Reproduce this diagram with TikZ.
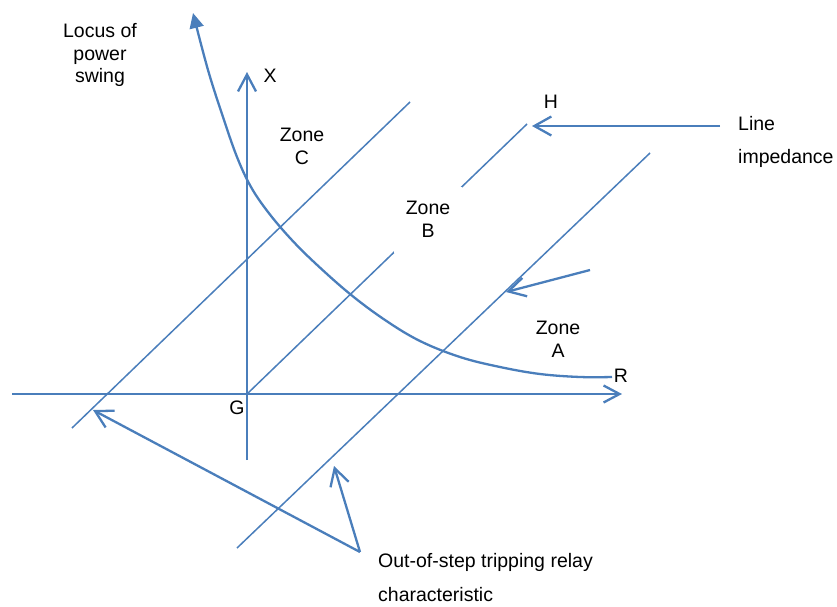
\documentclass[tikz,border=0pt]{standalone}
\usepackage{fontspec}
\setmainfont{Liberation Sans}
\usetikzlibrary{arrows.meta}
\definecolor{lb}{RGB}{74,126,187}
\begin{document}
\begin{tikzpicture}[x=1pt,y=-1pt,
  axis/.style={draw=lb, line width=2.4pt},
  charline/.style={draw=lb, line width=1.5pt},
  ptr/.style={draw=lb, line width=2.3pt, -{Straight Barb[length=17pt,width=19pt,line width=2.3pt]}},
  locus/.style={draw=lb, line width=2.3pt, -{Triangle[length=15pt,width=14pt,fill=lb]}},
  lbl/.style={font=\fontsize{19.5}{23}\selectfont, inner sep=0pt, align=center, text=black},
  lbll/.style={font=\fontsize{19.5}{33}\selectfont, inner sep=0pt, align=left, text=black, anchor=west},
  gap/.style={fill=white, inner sep=0pt, minimum width=68pt, minimum height=66pt}]
\useasboundingbox (0,0) rectangle (837,606);
% axes
\coordinate (Rl) at (12,394);
\coordinate (Rr) at (622,394);
\coordinate (Xb) at (247,460);
\coordinate (Xt) at (247,72);
\coordinate (G) at (247,394);
\coordinate (H) at (527,124);
\draw[axis, -{Straight Barb[length=16pt,width=17pt,line width=2.3pt]}] (Rl) -- (Rr);
\draw[axis, -{Straight Barb[length=17pt,width=18pt,line width=2.3pt]}] (Xb) -- (Xt);
% characteristic lines
\coordinate (Cb) at (72,428);
\coordinate (Ct) at (410,102);
\coordinate (Ab) at (237,548);
\coordinate (At) at (650,153);
\draw[charline] (Cb) -- (Ct);
\draw[charline] (Ab) -- (At);
\draw[charline] (G) -- (H);
% Zone B label covers part of line impedance
\node[gap, lbl] (zb) at (428,219.5) {Zone\\B};
% locus of power swing
\draw[locus] plot[smooth, tension=0.6] coordinates {(612,377) (580,377) (540,374) (500,367) (460,357) (420,341) (385,320) (350,294) (315,263) (290,238) (268,212) (251,187) (237,157) (223,117) (208,70) (193,13)};
% labels
\node[lbl] (zc) at (302,146.5) {Zone\\C};
\node[lbl] (za) at (558,339.5) {Zone\\A};
\node[lbl] (lx) at (270,76) {X};
\node[lbl] (lr) at (621,376) {R};
\node[lbl] (lg) at (237,408) {G};
\node[lbl] (lh) at (551,102) {H};
\node[lbl, font=\fontsize{19.5}{22.5}\selectfont] (locus) at (100,55) {Locus of\\power\\swing};
\node[lbll] (li) at (738,142) {Line\\impedance};
\node[lbll, font=\fontsize{19.5}{34}\selectfont] (os) at (378,578) {Out-of-step tripping relay\\characteristic};
% pointer arrows
\coordinate (liS) at (720,126);
\coordinate (liT) at (532,126);
\draw[ptr] (liS) -- (liT);
\coordinate (aS) at (590,270);
\coordinate (aT) at (506,292);
\draw[ptr] (aS) -- (aT);
\coordinate (oS) at (360,552);
\coordinate (oT1) at (93,410);
\coordinate (oT2) at (334,466);
\draw[ptr] (oS) -- (oT1);
\draw[ptr] (oS) -- (oT2);
\end{tikzpicture}
\end{document}
